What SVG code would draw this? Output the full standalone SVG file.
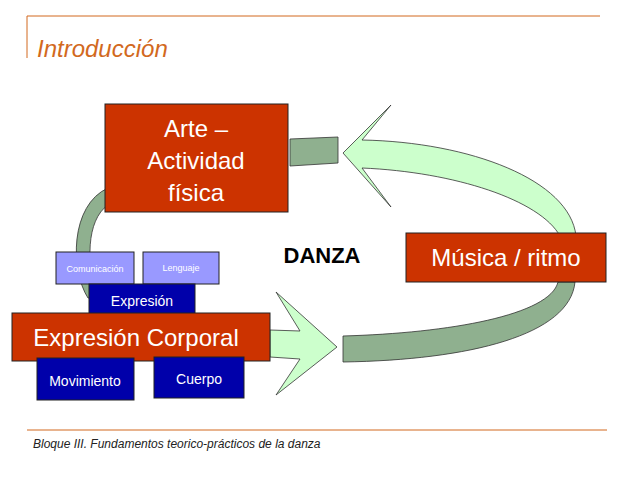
<svg xmlns="http://www.w3.org/2000/svg" width="638" height="479" viewBox="0 0 638 479">
<style>
.red{fill:#cc3300;stroke:#222;stroke-width:1}
.blue{fill:#0000aa;stroke:#222;stroke-width:1}
.lav{fill:#9999ff;stroke:#222;stroke-width:1}
.dk{fill:#8fb08f;stroke:#333;stroke-width:0.8}
.lt{fill:#ccffcc;stroke:#333;stroke-width:0.8}
text{font-family:"Liberation Sans",Arial,sans-serif;fill:#fff;text-anchor:middle}
</style>
<rect width="638" height="479" fill="#fff"/>
<line x1="27" y1="16" x2="600" y2="16" stroke="#d2691e" stroke-width="1"/>
<line x1="27" y1="16" x2="27" y2="58" stroke="#d2691e" stroke-width="1"/>
<text x="37" y="57" style="font-size:24px;font-style:italic;fill:#d2691e;text-anchor:start">Introducción</text>
<line x1="27" y1="430" x2="607" y2="430" stroke="#d2691e" stroke-width="1"/>
<text x="33" y="448" style="font-size:12px;font-style:italic;fill:#222;text-anchor:start">Bloque III. Fundamentos teorico-prácticos de la danza</text>
<g id="connectors">
<path class="dk" d="M108 188 C70 205 70 270 88 298 L98 298 C86 265 86 220 108 205 Z"/>
<path class="dk" d="M290 139 L338 137 L338 163 L290 166 Z"/>
<path class="lt" d="M576 236 C570 180 470 142 362 140 L391 105 L343 153 L391 207 L362 168 C455 172 540 200 560 236 Z"/>
<path class="dk" d="M343 336 C450 333 550 315 558 282 L575 282 C570 335 470 360 343 362 Z"/>
<path class="lt" d="M270 330 L300 331 L276 292 L337 347 L276 395 L300 359 L270 357 Z"/>
</g>
<g id="arte"><rect class="red" x="105" y="104" width="183" height="108"/>
<text x="196" y="137" font-size="24">Arte –</text><text x="196" y="169" font-size="24">Actividad</text><text x="196" y="201" font-size="24">física</text></g>
<g id="danza"><text x="322" y="263" style="font-size:22px;font-weight:bold;fill:#000">DANZA</text></g>
<g id="musica"><rect class="red" x="406" y="233" width="200" height="49"/><text x="506" y="266" font-size="24">Música / ritmo</text></g>
<g id="comunicacion"><rect class="lav" x="56" y="252" width="78" height="32"/><text x="95" y="272" font-size="9">Comunicación</text></g>
<g id="lenguaje"><rect class="lav" x="143" y="252" width="76" height="32"/><text x="181" y="271" font-size="9">Lenguaje</text></g>
<g id="expresion"><rect class="blue" x="89" y="284" width="106" height="34"/><text x="142" y="306" font-size="14">Expresión</text></g>
<g id="expcorporal"><rect class="red" x="12" y="313" width="258" height="48"/><text x="136" y="346" font-size="24">Expresión Corporal</text></g>
<g id="movimiento"><rect class="blue" x="37" y="358" width="97" height="42"/><text x="85" y="386" font-size="14">Movimiento</text></g>
<g id="cuerpo"><rect class="blue" x="154" y="357" width="90" height="41"/><text x="199" y="384" font-size="14">Cuerpo</text></g>
</svg>
